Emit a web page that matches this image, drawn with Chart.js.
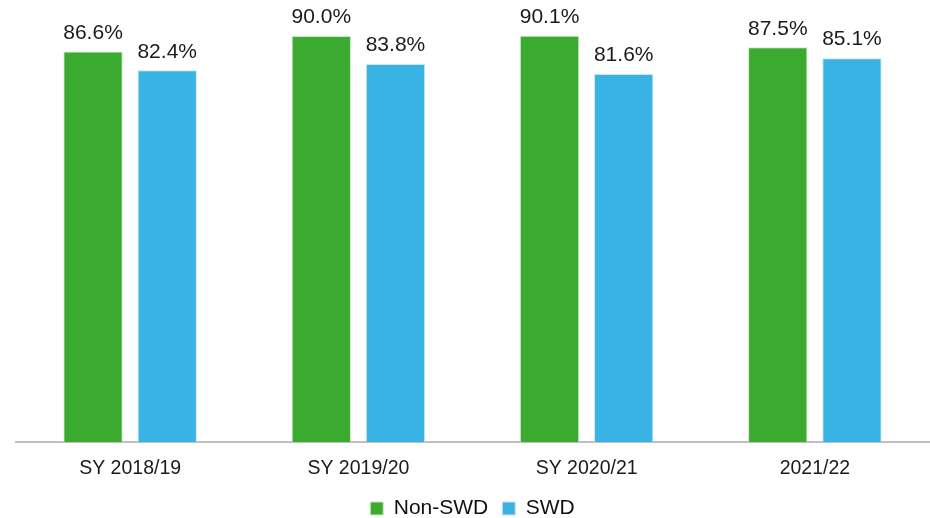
<!DOCTYPE html>
<html>
<head>
<meta charset="utf-8">
<script src="https://cdn.jsdelivr.net/npm/chart.js@4.4.0/dist/chart.umd.min.js"></script>
<style>
  html, body { margin: 0; padding: 0; background: #fff; }
  #wrap { width: 930px; height: 518px; }
</style>
</head>
<body>
<div id="wrap"><canvas id="myChart"></canvas></div>
<script>
var years = ["SY 2018/19", "SY 2019/20", "SY 2020/21", "2021/22"];
var nonSwd = [86.6, 90.0, 90.1, 87.5];
var swd = [82.4, 83.8, 81.6, 85.1];

// draws the value above each bar
var valueLabels = {
    id: 'valueLabels',
    afterDatasetsDraw: function(chart) {
        var ctx = chart.ctx;
        ctx.save();
        ctx.font = '21px "Liberation Sans", Arial, sans-serif';
        ctx.fillStyle = '#1a1a1a';
        ctx.textAlign = 'center';
        ctx.textBaseline = 'bottom';
        chart.data.datasets.forEach(function(ds, i) {
            chart.getDatasetMeta(i).data.forEach(function(bar, j) {
                ctx.fillText(ds.data[j].toFixed(1) + '%', bar.x, bar.y - 8);
            });
        });
        ctx.restore();
    }
};

var bottomPad = -11;

var ctx = document.getElementById('myChart').getContext('2d');
var chart = new Chart(ctx, {
    type: 'bar',
    data: {
        labels: years,
        datasets: [{
            label: "Non-SWD",
            backgroundColor: "#3aab2e",
            borderColor: "#cfe6cb",
            borderWidth: 1,
            data: nonSwd
        },
        {
            label: "SWD",
            backgroundColor: "#38b3e3",
            borderColor: "#cfe3ea",
            borderWidth: 1,
            data: swd
        }]
    },
    options: {
        responsive: true,
        maintainAspectRatio: false,
        animation: false,
        datasets: {
            bar: { categoryPercentage: 0.65, barPercentage: 0.8 }
        },
        layout: { padding: { left: 16, right: 1, top: 0, bottom: bottomPad } },
        scales: {
            x: {
                grid: { display: false },
                border: { color: '#bfbfbf', width: 2 },
                ticks: {
                    color: '#1a1a1a',
                    font: { family: '"Liberation Sans", Arial, sans-serif', size: 19.5 },
                    padding: 7
                },
                // keep the baseline where the original has it
                afterFit: function(scale) {
                    scale.height = scale.chart.height - bottomPad - scale.chart.legend.height - 442;
                }
            },
            y: {
                display: false,
                min: 0,
                max: 98
            }
        },
        plugins: {
            legend: {
                position: 'bottom',
                labels: {
                    color: '#111',
                    font: { family: '"Liberation Sans", Arial, sans-serif', size: 21 },
                    boxWidth: 13,
                    boxHeight: 13,
                    padding: 14
                }
            },
            tooltip: { enabled: false }
        }
    },
    plugins: [valueLabels]
});
</script>
</body>
</html>
